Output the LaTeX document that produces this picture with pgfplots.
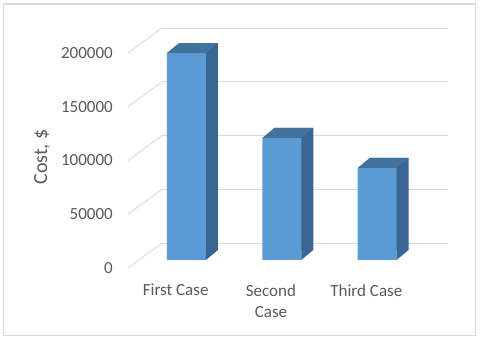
\documentclass[border=0pt]{standalone}
\usepackage{fontspec}
\setmainfont{Carlito}
\usepackage{pgfplots}
\pgfplotsset{compat=1.18}

\definecolor{barfront}{HTML}{5B9BD5}
\definecolor{bartop}{HTML}{41729E}
\definecolor{barside}{HTML}{386591}
\definecolor{gridc}{HTML}{D9D9D9}
\definecolor{txt}{HTML}{595959}

% top face of a 3D column, drawn at the front top edge
\pgfdeclareplotmark{topface}{%
  \pgfpathmoveto{\pgfqpoint{-19.5pt}{0pt}}%
  \pgfpathlineto{\pgfqpoint{19.5pt}{0pt}}%
  \pgfpathlineto{\pgfqpoint{31.5pt}{10pt}}%
  \pgfpathlineto{\pgfqpoint{-7.5pt}{10pt}}%
  \pgfpathclose\pgfusepathqfill}
% lower corner of the side face
\pgfdeclareplotmark{sidefoot}{%
  \pgfpathmoveto{\pgfqpoint{19.5pt}{0pt}}%
  \pgfpathlineto{\pgfqpoint{31.5pt}{10pt}}%
  \pgfpathlineto{\pgfqpoint{19.5pt}{10pt}}%
  \pgfpathclose\pgfusepathqfill}

\begin{document}
\begin{tikzpicture}
\path (0,0) rectangle (480pt,340pt);
\draw[gridc, line width=1.2pt] (3.8pt,4.8pt) rectangle (475.5pt,336pt);
\begin{axis}[
    at={(128pt,72pt)}, anchor=south west,
    scale only axis, width=286pt, height=215pt,
    xmin=-0.5, xmax=2.5, ymin=0, ymax=200000,
    clip=false,
    axis line style={draw=none},
    major tick length=0pt,
    xtick={0,1,2},
    xticklabels={First Case,{Second\\Case},Third Case},
    ytick={0,50000,100000,150000,200000},
    scaled y ticks=false,
    /pgf/number format/fixed,
    /pgf/number format/precision=0,
    /pgf/number format/1000 sep={},
    /pgf/number format/assume math mode=true,
    ymajorgrids,
    major grid style={gridc, line width=0.9pt, xshift=34pt, yshift=25pt},
    yticklabel style={font=\fontsize{17}{20}\selectfont, text=txt, anchor=east, inner sep=0pt, xshift=-15pt},
    xticklabel style={font=\fontsize{17}{21}\selectfont, text=txt, anchor=north, inner sep=0pt, yshift=-16pt, align=center},
    ylabel={Cost, \$},
    y label style={at={(axis description cs:-0.3007,0.516)}, anchor=center, font=\fontsize{20}{24}\selectfont, text=txt},
]
% side wall lines
\addplot[gridc, line width=0.9pt] coordinates {(-0.5,0) (-0.1434,23256)};
\addplot[gridc, line width=0.9pt] coordinates {(-0.5,50000) (-0.1434,73256)};
\addplot[gridc, line width=0.9pt] coordinates {(-0.5,100000) (-0.1434,123256)};
\addplot[gridc, line width=0.9pt] coordinates {(-0.5,150000) (-0.1434,173256)};
\addplot[gridc, line width=0.9pt] coordinates {(-0.5,200000) (-0.1434,223256)};

% back of the columns (gives the side face)
\addplot[ybar, bar width=39pt, bar shift=0pt, fill=barside, draw=none, xshift=22.8pt, yshift=18pt]
    coordinates {(0,192500) (1,113500) (2,85600)};
% front face
\addplot[ybar, bar width=39pt, bar shift=0pt, fill=barfront, draw=none, xshift=10.8pt, yshift=8pt]
    coordinates {(0,192500) (1,113500) (2,85600)};
% foot of side face
\addplot[only marks, mark=sidefoot, barside, xshift=10.8pt, yshift=8pt]
    coordinates {(0,0) (1,0) (2,0)};
% top face
\addplot[only marks, mark=topface, bartop, xshift=10.8pt, yshift=8pt]
    coordinates {(0,192500) (1,113500) (2,85600)};
\end{axis}
\end{tikzpicture}
\end{document}
